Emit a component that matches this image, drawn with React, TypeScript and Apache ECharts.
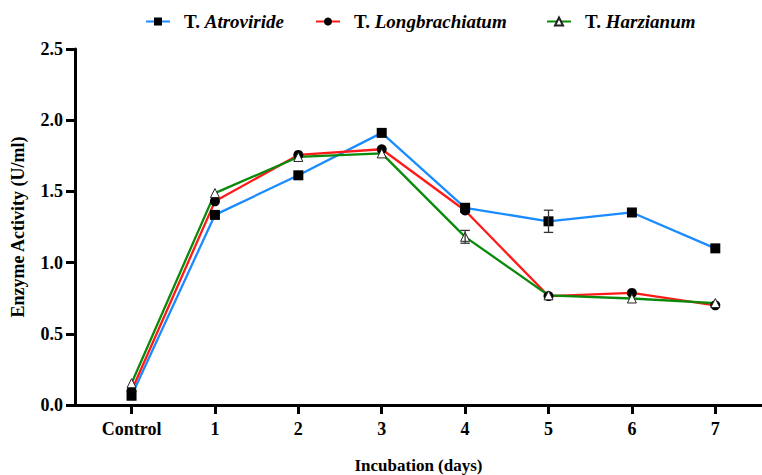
import React, { useEffect, useRef } from "react";
import * as echarts from "echarts";

const days = [0, 1, 2, 3, 4, 5, 6, 7];
const xTickLabels = ["Control", "1", "2", "3", "4", "5", "6", "7"];
const seriesNames = ["Atroviride", "Longbrachiatum", "Harzianum"];
const atroviride = [0.065, 1.335, 1.613, 1.911, 1.385, 1.29, 1.352, 1.1];
const longbrachiatum = [0.1, 1.43, 1.756, 1.796, 1.366, 0.765, 0.787, 0.7];
const harzianum = [0.153, 1.488, 1.742, 1.767, 1.181, 0.77, 0.748, 0.716];
const atrovirideErr = [0, 0.015, 0.015, 0.02, 0.02, 0.078, 0.015, 0.015];
const longbrachiatumErr = [0, 0.015, 0.01, 0.015, 0.015, 0.01, 0.015, 0.01];
const harzianumErr = [0, 0.015, 0.01, 0.015, 0.045, 0.01, 0.015, 0.01];

const lineColors = ["#1a8cff", "#ff1a1a", "#0a8a0a"];
const symbols = ["rect", "circle", "triangle"];
const legendLefts = [140, 310, 541];
const FONT = "Liberation Serif";

export default function App() {
  const ref = useRef<HTMLDivElement>(null);
  useEffect(() => {
    document.body.style.margin = "0";
    if (!ref.current) return;
    const chart = echarts.init(ref.current, null, { renderer: "svg" });
    const values = [atroviride, longbrachiatum, harzianum];
    const errs = [atrovirideErr, longbrachiatumErr, harzianumErr];

    const lineSeries = seriesNames.map((name, i) => ({
      name,
      type: "line",
      data: days.map((d, j) => [d, values[i][j]]),
      symbol: symbols[i],
      symbolSize: i === 2 ? 9 : 10,
      color: lineColors[i],
      lineStyle: { color: lineColors[i], width: 2.3 },
      itemStyle:
        i === 2
          ? { color: "#ffffff", borderColor: "#222", borderWidth: 1 }
          : { color: "#000000", borderWidth: 0 },
      z: 3,
    }));

    const errorSeries = seriesNames.map((name, i) => ({
      name: "err_" + name,
      type: "custom",
      z: 4,
      data: days.map((d, j) => [d, values[i][j] - errs[i][j], values[i][j] + errs[i][j]]),
      renderItem: (params: any, api: any) => {
        const x = api.value(0);
        const lo = api.coord([x, api.value(1)]);
        const hi = api.coord([x, api.value(2)]);
        if (Math.abs(lo[1] - hi[1]) < 8) return { type: "group", children: [] };
        const hw = 4.7;
        const style = { stroke: "#333", lineWidth: 1.3 };
        return {
          type: "group",
          children: [
            { type: "line", shape: { x1: lo[0], y1: lo[1], x2: hi[0], y2: hi[1] }, style },
            { type: "line", shape: { x1: lo[0] - hw, y1: lo[1], x2: lo[0] + hw, y2: lo[1] }, style },
            { type: "line", shape: { x1: hi[0] - hw, y1: hi[1], x2: hi[0] + hw, y2: hi[1] }, style },
          ],
        };
      },
    }));

    const legends = seriesNames.map((name, i) => ({
      top: 7,
      left: legendLefts[i],
      itemWidth: 24,
      itemHeight: 10,
      data: [name],
      formatter: (n: string) => `{b|T.} {i|${n}}`,
      textStyle: {
        fontFamily: FONT,
        fontWeight: "bold",
        fontSize: 19,
        color: "#000",
        rich: {
          b: { fontFamily: FONT, fontWeight: "bold", fontSize: 19, color: "#000", padding: [0, 0, 0, 9] },
          i: { fontFamily: FONT, fontWeight: "bold", fontStyle: "italic", fontSize: 19, color: "#000" },
        },
      },
    }));

    chart.setOption({
      animation: false,
      backgroundColor: "#ffffff",
      grid: { left: 75, right: 0, top: 49, bottom: 70, outerBoundsMode: "none", containLabel: false },
      legend: legends,
      xAxis: {
        type: "value",
        min: -0.678,
        max: 7.56,
        name: "Incubation (days)",
        nameLocation: "middle",
        nameGap: 52,
        nameTextStyle: { fontFamily: FONT, fontWeight: "bold", fontSize: 17, color: "#000" },
        splitLine: { show: false },
        axisLine: { show: true, onZero: false, lineStyle: { color: "#000", width: 3 } },
        axisTick: {
          show: true,
          length: 9,
          customValues: days,
          lineStyle: { color: "#000", width: 3 },
        },
        axisLabel: {
          customValues: days,
          margin: 15,
          formatter: (v: number) => xTickLabels[Math.round(v)] ?? "",
          fontFamily: FONT,
          fontWeight: "bold",
          fontSize: 18,
          color: "#000",
        },
      },
      yAxis: {
        type: "value",
        min: 0,
        max: 2.5,
        interval: 0.5,
        name: "Enzyme Activity (U/ml)",
        nameLocation: "middle",
        nameGap: 48,
        nameRotate: 90,
        nameTextStyle: { fontFamily: FONT, fontWeight: "bold", fontSize: 18, color: "#000" },
        splitLine: { show: false },
        axisLine: { show: true, onZero: false, lineStyle: { color: "#000", width: 3 } },
        axisTick: { show: true, length: 9, lineStyle: { color: "#000", width: 3 } },
        axisLabel: {
          margin: 12,
          formatter: (v: number) => v.toFixed(1),
          fontFamily: FONT,
          fontWeight: "bold",
          fontSize: 18,
          color: "#000",
        },
      },
      series: [...errorSeries, ...lineSeries],
    });
    return () => chart.dispose();
  }, []);
  return <div ref={ref} style={{ width: 762, height: 475 }} />;
}
